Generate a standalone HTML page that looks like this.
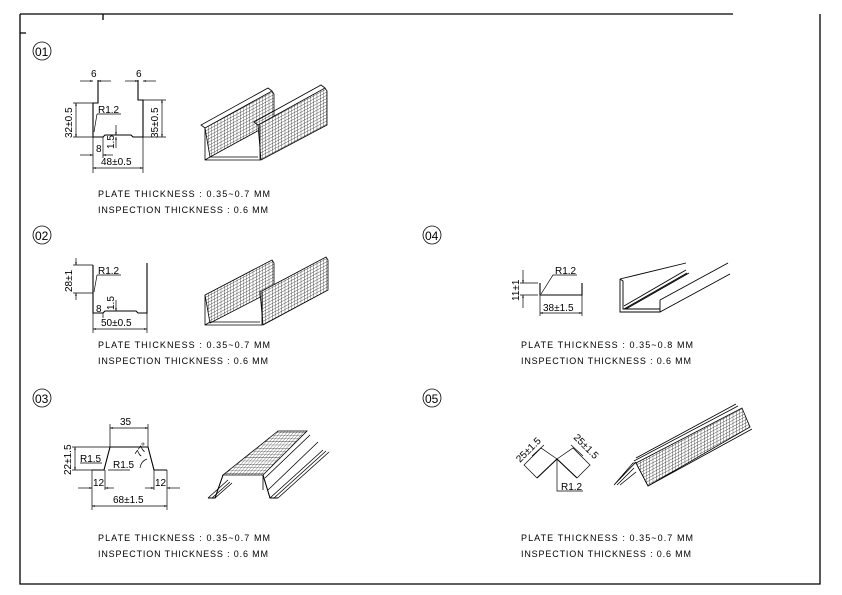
<!DOCTYPE html>
<html><head><meta charset="utf-8">
<style>
html,body{margin:0;padding:0;background:#fff;}
svg{display:block;}
text{font-family:"Liberation Sans",sans-serif;fill:#000;}
.t{font-size:9px;}
.d{font-size:10px;}
</style></head>
<body>
<svg width="842" height="595" viewBox="0 0 842 595" xmlns="http://www.w3.org/2000/svg">
<defs>
<pattern id="m1" width="3.2" height="3.2" patternUnits="userSpaceOnUse" patternTransform="skewY(-28)">
<rect width="3.2" height="3.2" fill="#fff"/>
<path d="M0 0V3.2M0 0H3.2" stroke="#000" stroke-width="0.6"/>
</pattern>
<pattern id="m2" width="3.2" height="3.2" patternUnits="userSpaceOnUse" patternTransform="skewX(-40)">
<rect width="3.2" height="3.2" fill="#fff"/>
<path d="M0 0V3.2M0 0H3.2" stroke="#000" stroke-width="0.6"/>
</pattern>
<marker id="a" viewBox="0 0 10 10" refX="10" refY="5" markerWidth="5" markerHeight="4" orient="auto-start-reverse">
<path d="M0 2L10 5L0 8z" fill="#000"/>
</marker>
</defs>
<g fill="none" stroke="#000">
<path d="M20 14H733M20 14V584H820V14M103 14V20M20 33H26" stroke-width="1.3"/>
</g>

<g fill="none" stroke="#000" stroke-width="0.8">
<circle cx="42" cy="51" r="9"/><circle cx="42" cy="235" r="9"/><circle cx="42" cy="398" r="9"/>
<circle cx="432" cy="235" r="9"/><circle cx="432" cy="398" r="9"/>
</g>
<g font-size="12">
<text x="35" y="56">01</text><text x="35" y="240">02</text><text x="35" y="403">03</text>
<text x="425" y="240">04</text><text x="425" y="403">05</text>
</g>

<!-- 01 profile -->
<g fill="none" stroke="#000" stroke-width="0.7">
<path d="M98 80V103H93V137H103L105 135H131L133 137H143V100H138V80" stroke-width="1.1"/>
<line x1="80" y1="81" x2="93" y2="81" marker-end="url(#a)"/>
<line x1="111" y1="81" x2="98" y2="81" marker-end="url(#a)"/>
<line x1="125" y1="81" x2="138" y2="81" marker-end="url(#a)"/>
<line x1="156" y1="81" x2="143" y2="81" marker-end="url(#a)"/>
<path d="M73 103H93M73 137H93M143 100H166M143 137H166"/>
<line x1="76" y1="120" x2="76" y2="103" marker-end="url(#a)"/><line x1="76" y1="120" x2="76" y2="137" marker-end="url(#a)"/>
<line x1="162" y1="118" x2="162" y2="100" marker-end="url(#a)"/><line x1="162" y1="118" x2="162" y2="137" marker-end="url(#a)"/>
<path d="M97 114H121M97 114L94 132"/>
<path d="M93 137V173M143 137V173M103 137V158"/>
<line x1="118" y1="168" x2="93" y2="168" marker-end="url(#a)"/><line x1="118" y1="168" x2="143" y2="168" marker-end="url(#a)"/>
<line x1="80" y1="155" x2="93" y2="155" marker-end="url(#a)"/><line x1="113" y1="155" x2="103" y2="155" marker-end="url(#a)"/>
<line x1="116" y1="125" x2="116" y2="135" marker-end="url(#a)"/><line x1="116" y1="148" x2="116" y2="137" marker-end="url(#a)"/>
</g>
<text class="d" x="91" y="77">6</text><text class="d" x="136" y="77">6</text>
<text class="d" x="98" y="113">R1.2</text>
<text class="d" x="96" y="152">8</text>
<text class="d" x="101" y="165">48±0.5</text>
<text class="d" transform="translate(72,138) rotate(-90)">32±0.5</text>
<text class="d" transform="translate(158,138) rotate(-90)">35±0.5</text>
<text class="d" transform="translate(114,149) rotate(-90)">1.5</text>

<g stroke="#000" stroke-width="0.8">
<path d="M205 128L272 91L274 94L274 122L210 157Z" fill="url(#m1)"/>
<path d="M258 125L325 88L327 91L327 125L261 160Z" fill="url(#m1)"/>
<path d="M205 128V160H260V125M210 157H258M205 160L210 157" fill="none"/>
<path d="M272 91L268 88L201 125L205 128M325 88L321 85L254 122L258 125" fill="none"/>
</g>
<text class="t" x="98" y="197" textLength="172">PLATE THICKNESS : 0.35~0.7 MM</text>
<text class="t" x="98" y="213" textLength="170">INSPECTION THICKNESS : 0.6 MM</text>

<!-- 02 profile -->
<g fill="none" stroke="#000" stroke-width="0.7">
<path d="M93 265V313H103L105 311H136L138 313H147V263" stroke-width="1.1"/>
<path d="M73 265H93M73 293H93"/>
<line x1="76" y1="258" x2="76" y2="265" marker-end="url(#a)"/><line x1="76" y1="300" x2="76" y2="293" marker-end="url(#a)"/>
<path d="M97 275H121M97 275L94 292M93 313V333M147 313V333M103 313V318"/>
<line x1="120" y1="329" x2="93" y2="329" marker-end="url(#a)"/><line x1="120" y1="329" x2="147" y2="329" marker-end="url(#a)"/>
<line x1="116" y1="300" x2="116" y2="311" marker-end="url(#a)"/>
</g>
<text class="d" x="98" y="274">R1.2</text>
<text class="d" x="96" y="312">8</text>
<text class="d" x="101" y="326">50±0.5</text>
<text class="d" transform="translate(72,292) rotate(-90)">28±1</text>
<text class="d" transform="translate(114,310) rotate(-90)">1.5</text>
<g stroke="#000" stroke-width="0.8">
<path d="M205 295L272 260L274 263L274 290L210 323Z" fill="url(#m1)"/>
<path d="M260 292L326 257L328 260L328 290L263 325Z" fill="url(#m1)"/>
<path d="M205 295V325H262V292M205 325L210 322H260" fill="none"/>
</g>
<text class="t" x="98" y="348" textLength="172">PLATE THICKNESS : 0.35~0.7 MM</text>
<text class="t" x="98" y="364" textLength="170">INSPECTION THICKNESS : 0.6 MM</text>

<!-- 03 profile -->
<g fill="none" stroke="#000" stroke-width="0.7">
<path d="M92 470H104L110 447H148L154 470H167" stroke-width="1.1"/>
<path d="M110 447V424M148 447V424M92 470V510M167 470V510M105 470V490M154 470V490M72 447H110M72 470H92M80 463H102M108 470H130"/>
<line x1="129" y1="428" x2="110" y2="428" marker-end="url(#a)"/><line x1="129" y1="428" x2="148" y2="428" marker-end="url(#a)"/>
<line x1="75" y1="458" x2="75" y2="447" marker-end="url(#a)"/><line x1="75" y1="458" x2="75" y2="470" marker-end="url(#a)"/>
<line x1="78" y1="488" x2="92" y2="488" marker-end="url(#a)"/><line x1="114" y1="488" x2="105" y2="488" marker-end="url(#a)"/>
<line x1="145" y1="488" x2="154" y2="488" marker-end="url(#a)"/><line x1="180" y1="488" x2="167" y2="488" marker-end="url(#a)"/>
<line x1="129" y1="506" x2="92" y2="506" marker-end="url(#a)"/><line x1="129" y1="506" x2="167" y2="506" marker-end="url(#a)"/>
<path d="M140 468Q141 461 147 459"/>
</g>
<text class="d" x="120" y="425">35</text>
<text class="d" x="80" y="462">R1.5</text>
<text class="d" x="113" y="468">R1.5</text>
<text class="d" transform="translate(140,458) rotate(-55)">77°</text>
<text class="d" x="93" y="486">12</text><text class="d" x="155" y="486">12</text>
<text class="d" x="113" y="503">68±1.5</text>
<text class="d" transform="translate(71,475) rotate(-90)">22±1.5</text>
<g stroke="#000" stroke-width="0.8" fill="none">
<path d="M223 475L263 475L307 431L278 431Z" fill="url(#m2)"/>
<path d="M208 498L215 498L223 475M263 475L270 498L278 498" stroke-width="1.1"/>
<path d="M208 498L228 480M212 498L230 482M215 498L232 483M270 498L323 450M274 498L326 451M278 498L329 452M268 490L318 442M265 478L310 435M263 475V490"/>
</g>
<text class="t" x="98" y="541" textLength="172">PLATE THICKNESS : 0.35~0.7 MM</text>
<text class="t" x="98" y="557" textLength="170">INSPECTION THICKNESS : 0.6 MM</text>

<!-- 04 -->
<g fill="none" stroke="#000" stroke-width="0.7">
<path d="M540 283V295H582V283" stroke-width="1.1"/>
<path d="M520 283H538M520 295H538M540 295V316M582 295V316M541 294L553 275H577"/>
<line x1="523" y1="270" x2="523" y2="283" marker-end="url(#a)"/><line x1="523" y1="308" x2="523" y2="295" marker-end="url(#a)"/>
<line x1="561" y1="313" x2="540" y2="313" marker-end="url(#a)"/><line x1="561" y1="313" x2="582" y2="313" marker-end="url(#a)"/>
</g>
<text class="d" x="555" y="274">R1.2</text>
<text class="d" x="543" y="311">38±1.5</text>
<text class="d" transform="translate(519,301) rotate(-90)">11±1</text>
<g fill="none" stroke="#000" stroke-width="0.9">
<path d="M620 279V312H660V300M620 279L686 263M620 279L623 281V309L660 309M624 309L687 273M626 309L689 273M660 300L728 263M660 312L730 274M624 306L686 270"/>
</g>
<text class="t" x="521" y="348" textLength="172">PLATE THICKNESS : 0.35~0.8 MM</text>
<text class="t" x="521" y="364" textLength="170">INSPECTION THICKNESS : 0.6 MM</text>

<!-- 05 -->
<g fill="none" stroke="#000" stroke-width="0.7">
<path d="M537 478L557 459L577 478" stroke-width="1.1"/>
<path d="M557 459V491H583M537 478L524 465L541 448L557 459M577 478L590 465L573 448L557 459"/>
<path d="M532 456L544 445M583 456L571 445"/>
</g>
<text class="d" x="561" y="490">R1.2</text>
<text class="d" transform="translate(520,463) rotate(-45)">25±1.5</text>
<text class="d" transform="translate(573,438) rotate(45)">25±1.5</text>
<g stroke="#000" stroke-width="0.8">
<path d="M636 463L742 408L750 427L648 486Z" fill="url(#m1)"/>
<path d="M614 485L633 463L636 463L648 486M617 485L634 468M620 485L636 472M614 485L636 462M634 461L738 406M636 458L736 404M648 486L752 429" fill="none"/>
</g>
<text class="t" x="521" y="541" textLength="172">PLATE THICKNESS : 0.35~0.7 MM</text>
<text class="t" x="521" y="557" textLength="170">INSPECTION THICKNESS : 0.6 MM</text>
</svg>
</body></html>
